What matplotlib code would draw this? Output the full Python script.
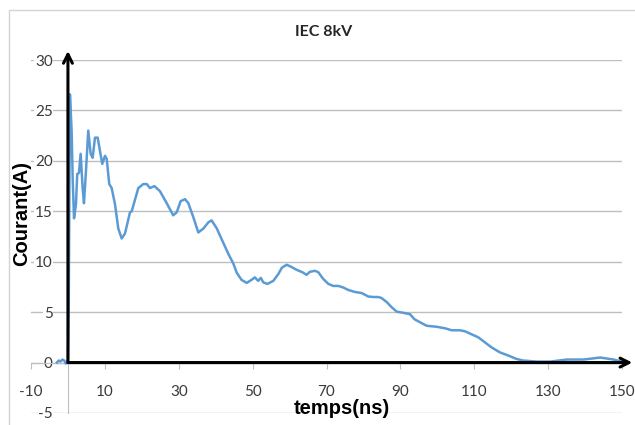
import matplotlib
matplotlib.use("Agg")
import matplotlib.pyplot as plt
from matplotlib.patches import Rectangle

# ---- data ----
time_ns = [-3.0, -2.5, -2.0, -1.5, -1.0, -0.6, -0.3, 0.0, 0.2, 0.54, 1.0, 1.3, 1.65,
           2.17, 2.52, 2.98, 3.44, 3.98, 4.34, 4.88, 5.50, 6.15, 6.69, 7.32, 8.05,
           8.67, 9.29, 10.03, 10.49, 11.19, 11.84, 12.74, 13.63, 14.55, 15.45,
           16.8, 17.26, 19.05, 20.4, 21.33, 22.2, 23.4, 24.9, 26.75, 28.5, 29.46,
           30.5, 31.7, 32.6, 33.96, 35.3, 36.7, 38.0, 38.9, 40.3, 41.65, 43.4,
           44.8, 45.7, 47.0, 48.4, 49.7, 50.6, 51.5, 52.2, 52.9, 54.0, 55.6,
           57.0, 57.9, 59.2, 60.4, 61.9, 63.5, 64.6, 65.5, 66.9, 67.8, 69.1,
           70.5, 71.8, 73.2, 74.5, 75.9, 77.7, 79.5, 81.3, 82.7, 84.0, 84.9,
           86.3, 87.6, 89.0, 91.3, 92.6, 93.8, 95.3, 97.1, 99.8, 102.1, 103.9,
           106.1, 107.5, 109.3, 111.1, 112.9, 114.7, 117.0, 119.2, 121.5, 123.3,
           126.9, 130.6, 135.1, 139.6, 144.1, 147.7, 149.9]
current_A = [0.0, 0.2, 0.1, 0.3, 0.2, -0.1, 0.1, 0.2, 5.0, 26.6, 23.0, 18.0, 14.3,
             15.7, 18.7, 18.8, 20.7, 17.3, 15.8, 19.0, 23.0, 20.7, 20.3, 22.3, 22.3,
             21.0, 19.7, 20.5, 20.2, 17.7, 17.3, 15.7, 13.3, 12.3, 12.8,
             14.9, 15.0, 17.3, 17.7, 17.7, 17.3, 17.5, 17.0, 15.8, 14.6, 14.9,
             16.0, 16.2, 15.8, 14.4, 12.9, 13.3, 13.9, 14.1, 13.3, 12.2, 10.8,
             9.8, 8.9, 8.2, 7.9, 8.2, 8.45, 8.1, 8.4, 7.95, 7.8, 8.1,
             8.8, 9.4, 9.7, 9.5, 9.2, 8.95, 8.7, 9.0, 9.1, 8.95, 8.3,
             7.8, 7.6, 7.6, 7.45, 7.2, 7.0, 6.9, 6.55, 6.5, 6.5, 6.4,
             6.0, 5.5, 5.05, 4.9, 4.8, 4.3, 4.0, 3.65, 3.55, 3.4, 3.2,
             3.2, 3.1, 2.8, 2.5, 2.0, 1.5, 1.0, 0.7, 0.35, 0.2,
             0.1, 0.1, 0.3, 0.3, 0.5, 0.3, 0.1]

x_ticks = [-10, 10, 30, 50, 70, 90, 110, 130, 150]
x_tick_labels = ["-10", "10", "30", "50", "70", "90", "110", "130", "150"]
y_ticks = [-5, 0, 5, 10, 15, 20, 25, 30]
y_tick_labels = ["-5", "0", "5", "10", "15", "20", "25", "30"]

title = "IEC 8kV"
x_label = "temps(ns)"
y_label = "Courant(A)"

# ---- figure ----
W, H = 635, 425
fig = plt.figure(figsize=(W / 100, H / 100), dpi=100)
fig.patch.set_facecolor("white")

# chart border (Excel chart area)
fig.patches.append(Rectangle((9 / W, -0.1), 1.2, (H - 10) / H + 0.1,
                             transform=fig.transFigure, fill=False,
                             edgecolor="#d4d4d4", linewidth=1.0))

ax = fig.add_axes([31 / W, (H - 413) / H, (622 - 31) / W, (413 - 60) / H])
ax.set_xlim(-10, 150)
ax.set_ylim(-5, 30)
ax.set_facecolor("none")

grid_c = "#bfbfbf"
for s in ["top", "right"]:
    ax.spines[s].set_visible(False)
ax.spines["bottom"].set_position(("data", 0))
ax.spines["bottom"].set_color(grid_c)
ax.spines["left"].set_position(("data", 0))
ax.spines["left"].set_color(grid_c)
ax.spines["left"].set_bounds(-5, 0)

ax.set_xticks(x_ticks, x_tick_labels)
ax.set_yticks(y_ticks, y_tick_labels)
ax.yaxis.grid(True, color=grid_c, linewidth=1.0)
ax.set_axisbelow(True)

ax.tick_params(axis="x", direction="out", length=4, color=grid_c, pad=12.5,
               labelcolor="#3a3a3a", labelsize=11)
ax.tick_params(axis="y", length=0, pad=11, labelcolor="#3a3a3a", labelsize=11)
for lbl in ax.get_xticklabels() + ax.get_yticklabels():
    lbl.set_family("Lato")
for lbl in ax.get_yticklabels():
    lbl.set_bbox(dict(facecolor="white", edgecolor="none", pad=0.3))

ax.plot(time_ns, current_A, color="#5B9BD5", linewidth=1.8, zorder=3,
        solid_joinstyle="round")

# black arrows (axes drawn in the reference)
arrow_kw = dict(arrowstyle="->", color="black", lw=2.2, mutation_scale=16,
                shrinkA=0, shrinkB=0)
ax.annotate("", xy=(152.8, 0), xytext=(0, 0), arrowprops=arrow_kw,
            annotation_clip=False, zorder=4)
ax.annotate("", xy=(0, 30.9), xytext=(0, 0), arrowprops=arrow_kw,
            annotation_clip=False, zorder=4)

fig.text(324 / W, (H - 32) / H, title, ha="center", va="center",
         family="Lato", fontweight="bold", fontsize=11.5, color="#262626")
fig.text(342 / W, (H - 408) / H, x_label, ha="center", va="center",
         family="Liberation Sans", fontweight="bold", fontsize=14.5, color="black")
fig.text(22 / W, (H - 214) / H, y_label, ha="center", va="center",
         rotation=90, family="Liberation Sans", fontweight="bold",
         fontsize=14.5, color="black")

fig.savefig("out.png", dpi=100, facecolor="white")
